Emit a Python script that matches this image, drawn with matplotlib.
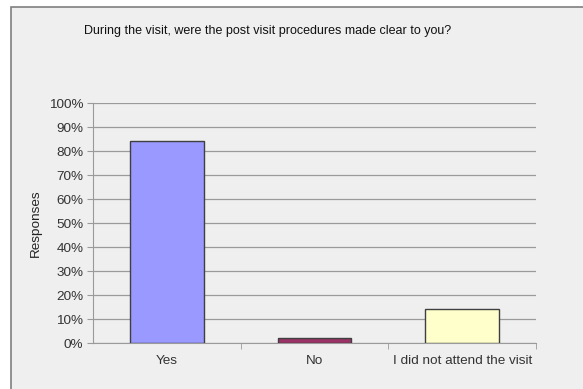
"""Bar chart: post visit procedures survey
"""
import matplotlib.pyplot as plt
from matplotlib.patches import Rectangle
from matplotlib.ticker import MultipleLocator, PercentFormatter

plt.rcParams['font.family'] = ['Liberation Sans', 'DejaVu Sans']

# data
categories = ['Yes', 'No', 'I did not attend the visit']
responses = [84, 2, 14]
bar_colors = ['#9999ff', '#993366', '#ffffcc']
title = 'During the visit, were the post visit procedures made clear to you?'

W, H = 583, 389
fig = plt.figure(figsize=(W / 100, H / 100), dpi=100)
fig.patch.set_facecolor('white')

# chart area background with border (bottom/right run off the image)
bg = Rectangle((11 / W, -0.05), 1.05, 1.05 - 7 / H, transform=fig.transFigure,
               facecolor='#efefef', edgecolor='#7f7f7f', linewidth=1.2)
bg.set_zorder(-10)
fig.add_artist(bg)

ax = fig.add_axes([93 / W, 1 - 343 / H, (536 - 93) / W, (343 - 103) / H])
ax.set_zorder(1)
ax.set_facecolor('#efefef')

x = range(len(categories))
ax.bar(x, responses, width=0.5, color=bar_colors, edgecolor='#3f3f3f',
       linewidth=1.0, zorder=3)

ax.set_xlim(-0.5, len(categories) - 0.5)
ax.set_ylim(0, 100)
ax.yaxis.set_major_locator(MultipleLocator(10))
ax.yaxis.set_major_formatter(PercentFormatter(decimals=0))
ax.grid(axis='y', color='#9a9a9a', linewidth=0.9, zorder=1)

ax.set_xticks(list(x))
ax.set_xticklabels(categories)
ax.set_xticks([0.5, 1.5, 2.5], minor=True)
ax.tick_params(axis='x', which='major', length=0, pad=9, labelsize=9.7, colors='#333333')
ax.tick_params(axis='x', which='minor', length=4, color='#9a9a9a', direction='out')
ax.tick_params(axis='y', length=4, color='#9a9a9a', labelsize=9.7, pad=3,
               labelcolor='#333333')

for side in ['top', 'right']:
    ax.spines[side].set_visible(False)
ax.spines['left'].set_color('#9a9a9a')
ax.spines['bottom'].set_color('#9a9a9a')

ax.set_ylabel('Responses', fontsize=9.7, color='#222222', labelpad=5)

fig.text(268 / W, 1 - 31 / H, title, ha='center', va='center', fontsize=9,
         color='#111111')

plt.savefig('out.png', dpi=100)
